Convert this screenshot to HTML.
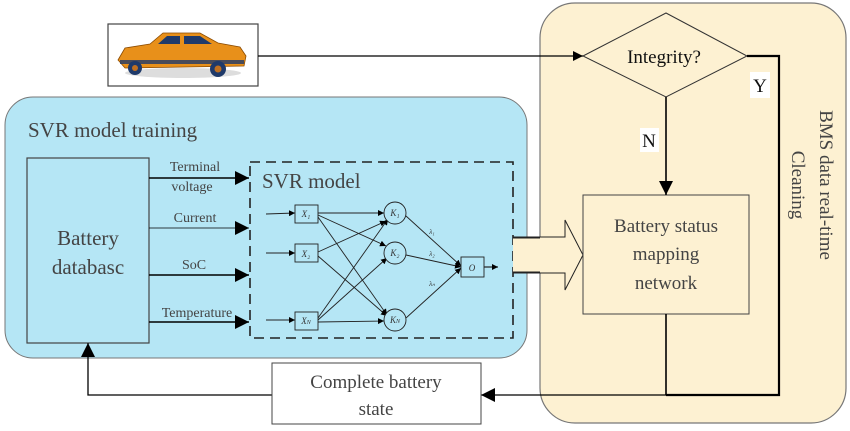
<!DOCTYPE html>
<html><head><meta charset="utf-8"><style>
html,body{margin:0;padding:0;background:#fff;}
svg{display:block;font-family:"Liberation Serif",serif;}
</style></head><body>
<svg width="850" height="431" viewBox="0 0 850 431" xmlns="http://www.w3.org/2000/svg">
<defs>
<marker id="a" viewBox="0 0 10 10" refX="10" refY="5" markerWidth="10" markerHeight="10" markerUnits="userSpaceOnUse" orient="auto"><path d="M0,0L10,5L0,10z" fill="#000"/></marker>
<marker id="b" viewBox="0 0 10 10" refX="10" refY="5" markerWidth="16" markerHeight="14" markerUnits="userSpaceOnUse" orient="auto"><path d="M0,0L10,5L0,10z" fill="#000"/></marker>
<marker id="s" viewBox="0 0 10 10" refX="10" refY="5" markerWidth="6" markerHeight="6" markerUnits="userSpaceOnUse" orient="auto"><path d="M0,0L10,5L0,10z" fill="#000"/></marker>
</defs>
<!-- panels -->
<rect x="540" y="3" width="306" height="420" rx="35" fill="#fdf1d2" stroke="#777" stroke-width="1.2"/>
<rect x="5" y="97" width="522" height="261" rx="28" fill="#b5e6f5" stroke="#777" stroke-width="1"/>
<text x="28" y="137" font-size="21" fill="#444">SVR model training</text>
<!-- battery db -->
<rect x="27" y="158" width="122" height="185" fill="#b5e6f5" stroke="#444" stroke-width="1.2"/>
<text x="88" y="245" font-size="21" fill="#444" text-anchor="middle">Battery</text>
<text x="88" y="274" font-size="21" fill="#444" text-anchor="middle">databasc</text>
<!-- input arrows -->
<g stroke="#000" stroke-width="1.6" fill="none">
<line x1="149" y1="178" x2="249" y2="178" marker-end="url(#b)"/>
<line x1="149" y1="228" x2="249" y2="228" stroke-width="0.8" marker-end="url(#b)"/>
<line x1="149" y1="275" x2="249" y2="275" marker-end="url(#b)"/>
<line x1="149" y1="322" x2="249" y2="322" marker-end="url(#b)"/>
</g>
<g font-size="14" fill="#444" text-anchor="middle">
<text x="195" y="171">Terminal</text>
<text x="192" y="191">voltage</text>
<text x="195" y="222">Current</text>
<text x="194" y="269">SoC</text>
<text x="197" y="317">Temperature</text>
</g>
<!-- dashed SVR box -->
<rect x="250" y="162" width="263" height="176" fill="none" stroke="#222" stroke-width="1.6" stroke-dasharray="10,6"/>
<text x="262" y="188" font-size="21" fill="#444">SVR model</text>
<!-- network -->
<g stroke="#222" stroke-width="0.9" fill="none">
<line x1="266" y1="214" x2="295" y2="213" marker-end="url(#s)"/>
<line x1="266" y1="253" x2="295" y2="253" marker-end="url(#s)"/>
<line x1="266" y1="320" x2="295" y2="320" marker-end="url(#s)"/>
<line x1="318" y1="213" x2="384" y2="213" marker-end="url(#s)"/>
<line x1="318" y1="215" x2="386" y2="246" marker-end="url(#s)"/>
<line x1="318" y1="217" x2="387" y2="315" marker-end="url(#s)"/>
<line x1="318" y1="252" x2="386" y2="221" marker-end="url(#s)"/>
<line x1="318" y1="256" x2="387" y2="316" marker-end="url(#s)"/>
<line x1="318" y1="318" x2="388" y2="219" marker-end="url(#s)"/>
<line x1="318" y1="320" x2="387" y2="258" marker-end="url(#s)"/>
<line x1="318" y1="322" x2="384" y2="321" marker-end="url(#s)"/>
<line x1="406" y1="216" x2="461" y2="266" marker-end="url(#s)"/>
<line x1="406" y1="255" x2="461" y2="267" marker-end="url(#s)"/>
<line x1="406" y1="318" x2="461" y2="268" marker-end="url(#s)"/>
<line x1="484" y1="267" x2="498" y2="267" stroke-width="1.2" marker-end="url(#s)"/>
<rect x="295" y="205" width="23" height="18" fill="#b5e6f5"/>
<rect x="295" y="244" width="23" height="18" fill="#b5e6f5"/>
<rect x="295" y="312" width="23" height="18" fill="#b5e6f5"/>
<circle cx="395" cy="213" r="11" fill="#b5e6f5"/>
<circle cx="395" cy="253" r="11" fill="#b5e6f5"/>
<circle cx="395" cy="320" r="11" fill="#b5e6f5"/>
<rect x="461" y="257" width="23" height="20" fill="#b5e6f5"/>
</g>
<g font-size="9" font-style="italic" fill="#333" text-anchor="middle">
<text x="306" y="217">X₁</text><text x="306" y="257">X₂</text><text x="306" y="324">X<tspan font-size="6">N</tspan></text>
<text x="395" y="216">K₁</text><text x="395" y="256">K₂</text><text x="395" y="323">K<tspan font-size="6">N</tspan></text>
<text x="472" y="271">O</text>
<text x="432" y="234" font-size="7">λ₁</text><text x="432" y="256" font-size="7">λ₂</text><text x="432" y="286" font-size="7">λₙ</text>
</g>
<!-- hollow arrow -->
<path d="M513,237 H565 V220 L583,255 L565,290 V273 H513" fill="#fdf1d2" stroke="#222" stroke-width="1"/>
<path d="M513,238 H540 M513,272 H540" stroke="#222" stroke-width="1"/>
<!-- mapping box -->
<rect x="583" y="195" width="166" height="119" fill="#fdf1d2" stroke="#444" stroke-width="1"/>
<g font-size="19" fill="#444" text-anchor="middle">
<text x="666" y="232">Battery status</text>
<text x="666" y="260">mapping</text>
<text x="666" y="289">network</text>
</g>
<!-- diamond -->
<path d="M583,56 L666,13 L747,56 L666,97 Z" fill="#fdf1d2" stroke="#333" stroke-width="1"/>
<text x="664" y="63" font-size="19" fill="#111" text-anchor="middle">Integrity?</text>
<!-- car box -->
<rect x="108" y="24" width="150" height="62" fill="#fff" stroke="#444" stroke-width="1.2"/>
<ellipse cx="183" cy="73" rx="58" ry="5" fill="#ddd"/>
<path d="M118,60 L125,48 L150,44 L163,33 L200,33 L218,43 L240,47 L246,56 L244,66 L125,68 Z" fill="#e8901a" stroke="#8a4a00" stroke-width="0.8"/>
<path d="M158,44 L167,36 L180,36 L180,44 Z M184,36 L200,36 L212,44 L184,44 Z" fill="#1f3a6a"/>
<path d="M120,60 L244,60 L244,64 L120,64 Z" fill="#1f3a6a" opacity="0.8"/>
<circle cx="135" cy="68" r="7" fill="#1f3a6a"/><circle cx="135" cy="68" r="3" fill="#c07020"/>
<circle cx="218" cy="69" r="8" fill="#1f3a6a"/><circle cx="218" cy="69" r="3.5" fill="#c07020"/>
<!-- connectors -->
<g stroke="#000" stroke-width="1.3" fill="none">
<line x1="258" y1="56" x2="583" y2="56" marker-end="url(#a)"/>
<line x1="666" y1="97" x2="666" y2="195" stroke-width="1.6" marker-end="url(#b)"/>
<path d="M747,56 H779 V395 H666" stroke-width="2.2"/>
<line x1="666" y1="314" x2="666" y2="395" stroke-width="1.6"/>
<line x1="666" y1="395" x2="481" y2="395" marker-end="url(#b)"/>
<path d="M272,395 H88 V343" marker-end="url(#b)"/>
</g>
<rect x="750" y="72" width="20" height="26" fill="#fff"/>
<text x="760" y="92" font-size="19" fill="#111" text-anchor="middle">Y</text>
<rect x="640" y="128" width="19" height="24" fill="#fff"/>
<text x="649" y="147" font-size="19" fill="#111" text-anchor="middle">N</text>
<!-- complete battery state -->
<rect x="272" y="363" width="209" height="61" fill="#fff" stroke="#444" stroke-width="1"/>
<text x="376" y="388" font-size="19" fill="#444" text-anchor="middle">Complete battery</text>
<text x="376" y="415" font-size="19" fill="#444" text-anchor="middle">state</text>
<!-- vertical text -->
<g font-size="19" fill="#444" text-anchor="middle">
<text transform="translate(820,185) rotate(90)">BMS data real-time</text>
<text transform="translate(792,185) rotate(90)">Cleaning</text>
</g>
</svg>
</body></html>
